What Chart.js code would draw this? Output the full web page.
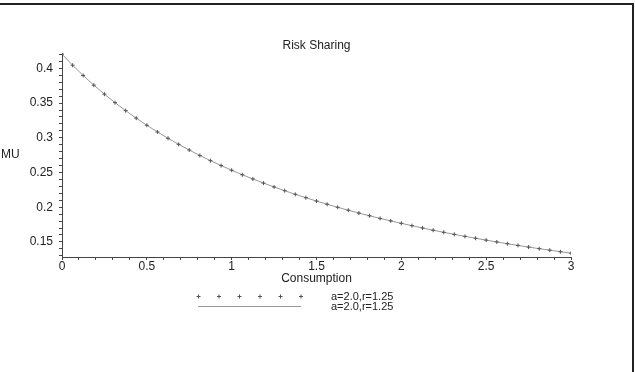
<!DOCTYPE html>
<html>
<head>
<meta charset="utf-8">
<script src="https://cdn.jsdelivr.net/npm/chart.js@4"></script>
<style>
  body { margin: 0; background: #fff; }
  #wrap { width: 635px; height: 372px; }
</style>
</head>
<body>
<div id="wrap"><canvas id="myChart" width="635" height="372"></canvas></div>
<script>
// consumption grid (step 1/16) and marginal utility
var consumption = [0, 0.0625, 0.125, 0.1875, 0.25, 0.3125, 0.375, 0.4375, 0.5, 0.5625, 0.625, 0.6875,
  0.75, 0.8125, 0.875, 0.9375, 1, 1.0625, 1.125, 1.1875, 1.25, 1.3125, 1.375, 1.4375, 1.5, 1.5625,
  1.625, 1.6875, 1.75, 1.8125, 1.875, 1.9375, 2, 2.0625, 2.125, 2.1875, 2.25, 2.3125, 2.375, 2.4375,
  2.5, 2.5625, 2.625, 2.6875, 2.75, 2.8125, 2.875, 2.9375, 3];
var mu = [0.4205, 0.4046, 0.3898, 0.3759, 0.3629, 0.3507, 0.3392, 0.3283, 0.3181, 0.3084, 0.2993, 0.2906,
  0.2824, 0.2746, 0.2671, 0.2600, 0.2533, 0.2468, 0.2407, 0.2348, 0.2292, 0.2238, 0.2186, 0.2137, 0.2089, 0.2043,
  0.1999, 0.1957, 0.1916, 0.1877, 0.1839, 0.1803, 0.1768, 0.1734, 0.1701, 0.1669, 0.1639, 0.1609, 0.1580, 0.1553,
  0.1526, 0.1500, 0.1474, 0.1450, 0.1426, 0.1403, 0.1381, 0.1359, 0.1338];
var seriesLabels = ['a=2.0,r=1.25', 'a=2.0,r=1.25'];
var chartTitle = 'Risk Sharing';
var xTitle = 'Consumption';
var yTitle = 'MU';

var points = consumption.map(function(c, i) { return { x: c, y: mu[i] }; });
var FONT = 'Liberation Sans, Arial, sans-serif';

// titles, legend and frame, drawn after the chart
var extras = {
  id: 'extras',
  afterDraw: function(chart) {
    var ctx = chart.ctx;
    var area = chart.chartArea;
    var cx = (area.left + area.right) / 2;
    ctx.save();
    ctx.fillStyle = '#222';
    ctx.font = '12px ' + FONT;
    ctx.textBaseline = 'middle';
    ctx.textAlign = 'center';
    ctx.fillText(chartTitle, cx, 46);
    ctx.fillText(xTitle, cx, 279);
    ctx.textAlign = 'left';
    ctx.fillText(yTitle, 1, 155);

    // legend
    ctx.font = '11px ' + FONT;
    ctx.fillText(chart.data.datasets[0].label, 331, 297);
    ctx.fillText(chart.data.datasets[1].label, 331, 307);
    ctx.strokeStyle = '#555';
    ctx.lineWidth = 1;
    for (var k = 0; k < 6; k++) {
      var px = 198.5 + k * 20.5, py = 296.5;
      ctx.beginPath();
      ctx.moveTo(px - 2, py); ctx.lineTo(px + 2, py);
      ctx.moveTo(px, py - 2); ctx.lineTo(px, py + 2);
      ctx.stroke();
    }
    ctx.strokeStyle = '#999';
    ctx.beginPath();
    ctx.moveTo(198, 306.5); ctx.lineTo(301, 306.5);
    ctx.stroke();

    // frame
    ctx.strokeStyle = '#222';
    ctx.lineWidth = 2;
    ctx.beginPath();
    ctx.moveTo(0, 4); ctx.lineTo(633, 4); ctx.lineTo(633, 372);
    ctx.stroke();
    ctx.restore();
  }
};

function isMultiple(v, step) {
  var q = v / step;
  return Math.abs(q - Math.round(q)) < 1e-6;
}

var ctx = document.getElementById('myChart').getContext('2d');
var myChart = new Chart(ctx, {
  type: 'scatter',
  data: {
    datasets: [{
      label: seriesLabels[0],
      data: points,
      showLine: false,
      pointStyle: 'cross',
      pointRadius: 2,
      pointBorderWidth: 1,
      pointBorderColor: '#555',
      pointBackgroundColor: '#555'
    }, {
      label: seriesLabels[1],
      data: points,
      showLine: true,
      borderColor: '#999',
      borderWidth: 1,
      pointRadius: 0,
      fill: false
    }]
  },
  options: {
    responsive: false,
    animation: false,
    devicePixelRatio: 1,
    layout: { padding: { left: 0, right: 64, top: 53, bottom: 0 } },
    plugins: {
      legend: { display: false },
      title: { display: false },
      tooltip: { enabled: false }
    },
    scales: {
      x: {
        type: 'linear',
        min: 0,
        max: 3,
        afterFit: function(scale) { scale.height = 115; },
        border: { display: true, color: '#444', width: 1 },
        grid: { drawOnChartArea: false, drawTicks: true, tickLength: 3, color: '#444' },
        ticks: {
          stepSize: 0.1,
          autoSkip: false,
          maxRotation: 0,
          minRotation: 0,
          padding: -1,
          color: '#222',
          font: { family: FONT, size: 12 },
          callback: function(v) { return isMultiple(v, 0.5) ? String(Math.round(v * 10) / 10) : ''; }
        }
      },
      y: {
        type: 'linear',
        min: 0.1283,
        max: 0.4222,
        afterFit: function(scale) { scale.width = 62; },
        border: { display: true, color: '#444', width: 1 },
        grid: { drawOnChartArea: false, drawTicks: true, tickLength: 3, color: '#444' },
        ticks: {
          stepSize: 0.01,
          includeBounds: false,
          autoSkip: false,
          padding: 6,
          color: '#222',
          font: { family: FONT, size: 12 },
          callback: function(v) { return isMultiple(v, 0.05) ? String(Math.round(v * 100) / 100) : ''; }
        }
      }
    }
  },
  plugins: [extras]
});
</script>
</body>
</html>
